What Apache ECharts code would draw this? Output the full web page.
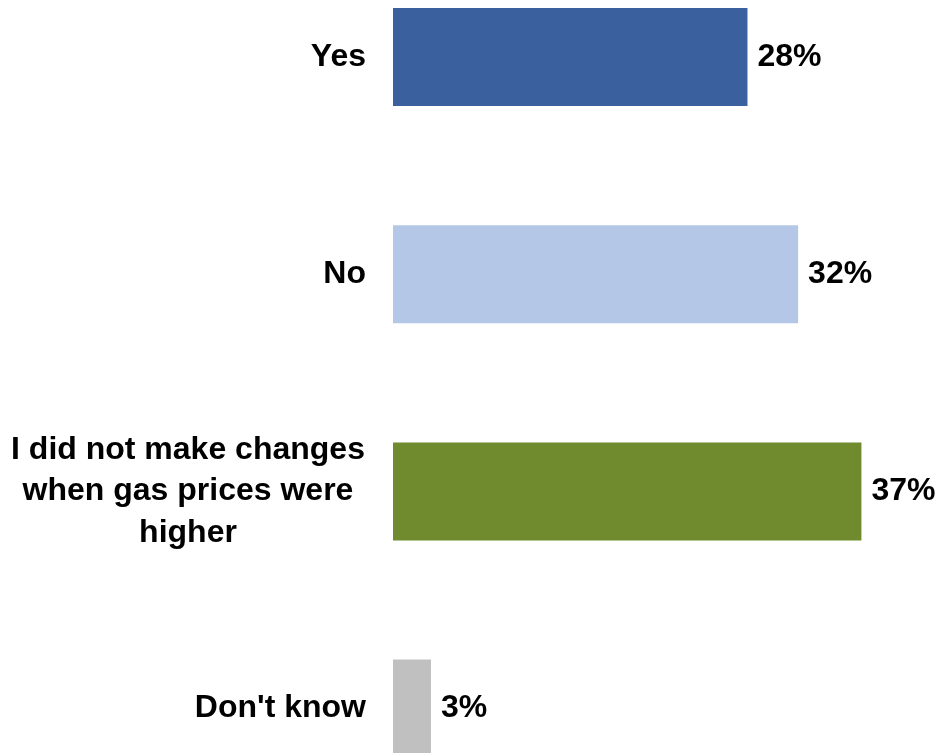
<!DOCTYPE html>
<html>
<head>
<meta charset="utf-8">
<script src="https://cdn.jsdelivr.net/npm/echarts@6/dist/echarts.min.js"></script>
<style>
  html, body { margin: 0; padding: 0; background: #ffffff; }
  #chart { width: 938px; height: 753px; }
</style>
</head>
<body>
<div id="chart"></div>
<script>
// Survey answers and their shares (percent)
const categories = ['Yes', 'No', 'I did not make changes when gas prices were higher', "Don't know"];
const values = [28, 32, 37, 3];
const barColors = ['#3A619D', '#B4C7E7', '#6F8B2E', '#C0C0C0'];

const FONT = '"Liberation Sans", Arial, sans-serif';
const FONT_SIZE = 32;

const chart = echarts.init(document.getElementById('chart'), null, { renderer: 'canvas' });

chart.setOption({
  animation: false,
  backgroundColor: '#ffffff',
  grid: {
    left: 393,
    right: 38.6,
    top: -51.6,
    bottom: -64.2,
    containLabel: false,
    outerBoundsMode: 'none'
  },
  xAxis: {
    type: 'value',
    min: 0,
    max: 40,
    show: false
  },
  yAxis: {
    type: 'category',
    inverse: true,
    data: categories,
    axisLine: { show: false },
    axisTick: { show: false },
    splitLine: { show: false },
    axisLabel: {
      margin: 27,
      width: 356,
      overflow: 'break',
      fontFamily: FONT,
      fontSize: FONT_SIZE,
      fontWeight: 'bold',
      color: '#000000',
      lineHeight: 41.5,
      // wrapped answers are centred inside the label block, short ones hug the bars
      formatter: function (v) {
        return (v.length > 24 ? '{c|' : '{r|') + v + '}';
      },
      rich: {
        c: { align: 'center', fontFamily: FONT, fontSize: FONT_SIZE, fontWeight: 'bold', color: '#000000', lineHeight: 41.5 },
        r: { align: 'right', fontFamily: FONT, fontSize: FONT_SIZE, fontWeight: 'bold', color: '#000000', lineHeight: 41.5 }
      }
    }
  },
  series: [{
    type: 'bar',
    barWidth: 98,
    data: values.map(function (v, i) {
      return { value: v, itemStyle: { color: barColors[i] } };
    }),
    label: {
      show: true,
      position: 'right',
      distance: 10,
      formatter: '{c}%',
      fontFamily: FONT,
      fontSize: FONT_SIZE,
      fontWeight: 'bold',
      color: '#000000'
    }
  }]
});
</script>
</body>
</html>
